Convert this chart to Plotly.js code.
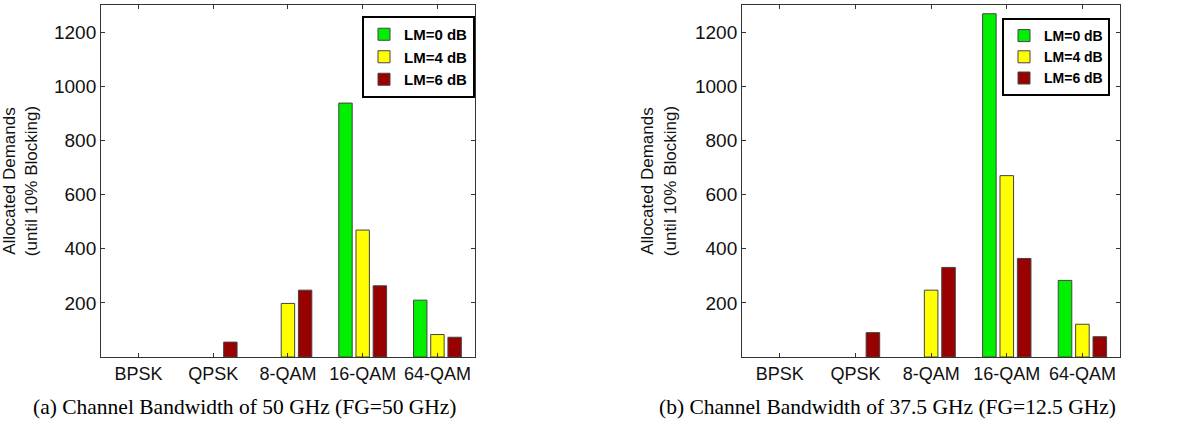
<!DOCTYPE html>
<html>
<head>
<meta charset="utf-8">
<script src="https://cdn.plot.ly/plotly-3.0.1.min.js"></script>
<style>html,body{margin:0;padding:0;background:#fff;}#chart{width:1193px;height:424px;}</style>
</head>
<body>
<div id="chart"></div>
<script>
const categories = ["BPSK", "QPSK", "8-QAM", "16-QAM", "64-QAM"];
const seriesNames = ["LM=0 dB", "LM=4 dB", "LM=6 dB"];
const seriesColors = ["#00f000", "#ffff00", "#990000"];
// (a) Channel Bandwidth of 50 GHz (FG=50 GHz)
const a_lm0 = [0, 0, 0, 938, 210];
const a_lm4 = [0, 0, 198, 469, 83];
const a_lm6 = [0, 55, 247, 263, 73];
// (b) Channel Bandwidth of 37.5 GHz (FG=12.5 GHz)
const b_lm0 = [0, 0, 0, 1268, 283];
const b_lm4 = [0, 0, 247, 670, 121];
const b_lm6 = [0, 90, 331, 364, 75];
const yTicks = [200, 400, 600, 800, 1000, 1200];
const captionA = "(a) Channel Bandwidth of 50 GHz (FG=50 GHz)";
const captionB = "(b) Channel Bandwidth of 37.5 GHz (FG=12.5 GHz)";

const sans = "Liberation Sans, Arial, sans-serif";
function mk(y, i, xa, ya, lg) {
  return {
    type: "bar", x: categories, y: y.map(v => v > 0 ? v : null), name: seriesNames[i],
    xaxis: xa, yaxis: ya, legend: lg,
    marker: {color: seriesColors[i], line: {color: "#444", width: 1}},
    hoverinfo: "y"
  };
}
const data = [
  mk(a_lm0, 0, "x", "y", "legend"), mk(a_lm4, 1, "x", "y", "legend"), mk(a_lm6, 2, "x", "y", "legend"),
  mk(b_lm0, 0, "x2", "y2", "legend2"), mk(b_lm4, 1, "x2", "y2", "legend2"), mk(b_lm6, 2, "x2", "y2", "legend2")
];
function xax(dom, anchor) {
  return {domain: dom, anchor: anchor, type: "category", range: [-0.5, 4.5],
    showline: true, mirror: "ticks", linecolor: "#333", linewidth: 1,
    ticks: "inside", ticklen: 4, tickcolor: "#333", showgrid: false, zeroline: false,
    tickfont: {family: sans, size: 18, color: "#111"}, fixedrange: true};
}
function yax(anchor) {
  return {domain: [0.158, 0.988], anchor: anchor, range: [0, 1300],
    tickvals: yTicks, showline: true, mirror: "ticks", linecolor: "#333", linewidth: 1,
    ticks: "inside", ticklen: 4, tickcolor: "#333", showgrid: false, zeroline: false,
    tickfont: {family: sans, size: 19, color: "#111"}, ticklabelstandoff: 0,
    title: {text: "Allocated Demands<br>(until 10% Blocking)", standoff: 14,
            font: {family: sans, size: 17, color: "#111"}},
    fixedrange: true};
}
function leg(x, y, fs) {
  return {x: x, y: y, xanchor: "right", yanchor: "top", bgcolor: "#fff",
    bordercolor: "#000", borderwidth: 2, tracegroupgap: 0,
    font: {family: sans, size: fs, color: "#000", weight: "bold"}, itemwidth: 30};
}
const layout = {
  width: 1193, height: 424, margin: {l: 0, r: 0, t: 0, b: 0},
  paper_bgcolor: "#fff", plot_bgcolor: "#fff",
  barmode: "group", bargap: 0.31, bargroupgap: 0.22,
  xaxis: xax([0.0847, 0.398], "y"),
  yaxis: yax("x"),
  xaxis2: xax([0.622, 0.939], "y2"),
  yaxis2: yax("x2"),
  legend: leg(475/1193, 1 - 16/424, 15),
  legend2: leg(1110/1193, 1 - 18/424, 14),
  annotations: [
    {xref: "paper", yref: "paper", x: 245/1193, y: 1 - 407/424, text: captionA, showarrow: false,
     xanchor: "center", yanchor: "middle", font: {family: "Liberation Serif, Times New Roman, serif", size: 21.5, color: "#000"}},
    {xref: "paper", yref: "paper", x: 887/1193, y: 1 - 407/424, text: captionB, showarrow: false,
     xanchor: "center", yanchor: "middle", font: {family: "Liberation Serif, Times New Roman, serif", size: 21.5, color: "#000"}}
  ]
};
Plotly.newPlot("chart", data, layout, {displayModeBar: false, staticPlot: true});
</script>
</body>
</html>
